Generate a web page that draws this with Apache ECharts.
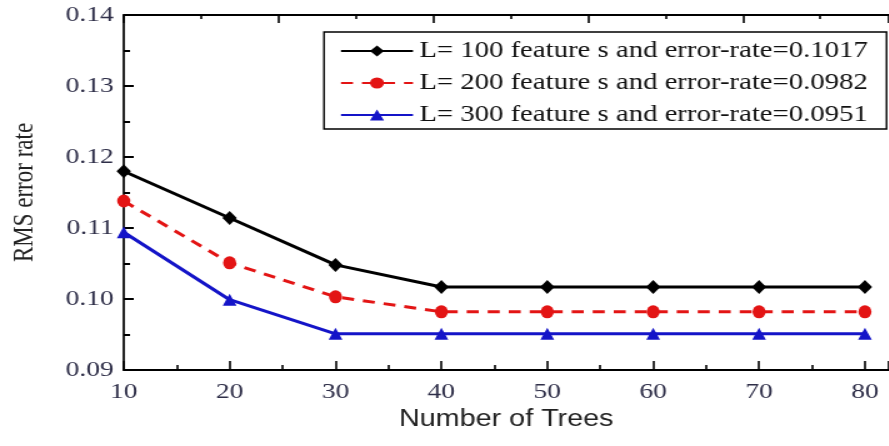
<!DOCTYPE html>
<html>
<head>
<meta charset="utf-8">
<script src="https://cdn.jsdelivr.net/npm/echarts@6/dist/echarts.min.js"></script>
<style>
  html, body { margin: 0; padding: 0; background: #fff; }
  /* the figure is drawn at 80% width and widened to the page, giving its wide-set lettering */
  #frame { width: 889px; height: 446px; overflow: hidden; }
  #chart { width: 711.2px; height: 446px; transform: scaleX(1.25); transform-origin: 0 0; }
</style>
</head>
<body>
<div id="frame"><div id="chart"></div></div>
<script>
// Number of trees in the forest
const trees = [10, 20, 30, 40, 50, 60, 70, 80];

// RMS error rate for each feature count
const rms100 = [0.1180, 0.1114, 0.1048, 0.1017, 0.1017, 0.1017, 0.1017, 0.1017];
const rms200 = [0.1138, 0.1051, 0.1003, 0.0982, 0.0982, 0.0982, 0.0982, 0.0982];
const rms300 = [0.1094, 0.0999, 0.0951, 0.0951, 0.0951, 0.0951, 0.0951, 0.0951];

const seriesNames = [
  'L= 100 feature s and error-rate=0.1017',
  'L= 200 feature s and error-rate=0.0982',
  'L= 300 feature s and error-rate=0.0951'
];

const yTicks = { min: 0.09, max: 0.14, step: 0.01 };
const xTicks = { min: 10, max: 82.25, step: 10 };

const serif = 'Liberation Serif';
const labelColor = '#2e2e48';

const pairs = vals => trees.map((t, i) => [t, vals[i]]);

const chart = echarts.init(document.getElementById('chart'), null, { renderer: 'canvas' });

chart.setOption({
  backgroundColor: '#ffffff',
  animation: false,
  grid: { left: 94.4, top: 15, bottom: 76, right: 0, containLabel: false },
  legend: {
    orient: 'vertical',
    left: 259.2,
    top: 32,
    itemWidth: 57.6,
    itemHeight: 14,
    itemGap: 8,
    padding: [7, 15, 2, 12.6],
    borderColor: '#000',
    borderWidth: 1.4,
    textStyle: { fontFamily: serif, fontSize: 23, color: '#111', lineHeight: 24 },
    data: seriesNames
  },
  xAxis: [
    {
      type: 'value',
      min: xTicks.min,
      max: xTicks.max,
      interval: xTicks.step,
      name: 'Number of Trees',
      nameLocation: 'middle',
      nameGap: 30,
      nameTextStyle: { fontFamily: 'Liberation Sans', fontSize: 23, color: '#222' },
      axisLine: { show: true, lineStyle: { color: '#000', width: 2 } },
      axisTick: { show: true, inside: true, length: 9, lineStyle: { color: '#000', width: 1.6 } },
      minorTick: { show: true, splitNumber: 2, length: 5, lineStyle: { color: '#000', width: 1.6 } },
      axisLabel: { fontFamily: serif, fontSize: 22, color: labelColor, margin: 11, showMaxLabel: false },
      splitLine: { show: false }
    },
    {
      type: 'value',
      position: 'top',
      min: 0,
      max: 616.8 / 124.8,
      interval: 1,
      axisLine: { show: true, onZero: false, lineStyle: { color: '#000', width: 2 } },
      axisTick: { show: true, inside: true, length: 8, lineStyle: { color: '#000', width: 1.6 } },
      minorTick: { show: true, splitNumber: 2, length: 4, lineStyle: { color: '#000', width: 1.6 } },
      axisLabel: { show: false },
      splitLine: { show: false }
    }
  ],
  yAxis: {
    type: 'value',
    min: yTicks.min,
    max: yTicks.max,
    interval: yTicks.step,
    name: 'RMS error rate',
    nameLocation: 'middle',
    nameGap: 68,
    nameTextStyle: { fontFamily: serif, fontSize: 23, color: '#222' },
    axisLine: { show: true, lineStyle: { color: '#000', width: 1.7 } },
    axisTick: { show: true, inside: true, length: 8, lineStyle: { color: '#000', width: 2 } },
    minorTick: { show: true, splitNumber: 2, length: 5, lineStyle: { color: '#000', width: 2 } },
    axisLabel: {
      fontFamily: serif, fontSize: 22, color: labelColor, margin: 8,
      formatter: v => v.toFixed(2)
    },
    splitLine: { show: false }
  },
  series: [
    {
      name: seriesNames[0],
      type: 'line',
      data: pairs(rms100),
      symbol: 'diamond',
      symbolSize: [11.5, 14],
      lineStyle: { color: '#000', width: 3 },
      itemStyle: { color: '#000' }
    },
    {
      name: seriesNames[1],
      type: 'line',
      data: pairs(rms200),
      symbol: 'circle',
      symbolSize: [10.5, 13],
      lineStyle: { color: '#e31414', width: 3, type: [9.6, 7.2] },
      itemStyle: { color: '#e31414' }
    },
    {
      name: seriesNames[2],
      type: 'line',
      data: pairs(rms300),
      symbol: 'triangle',
      symbolSize: [11, 12],
      lineStyle: { color: '#1414c8', width: 3 },
      itemStyle: { color: '#1414c8' }
    }
  ]
});
</script>
</body>
</html>
